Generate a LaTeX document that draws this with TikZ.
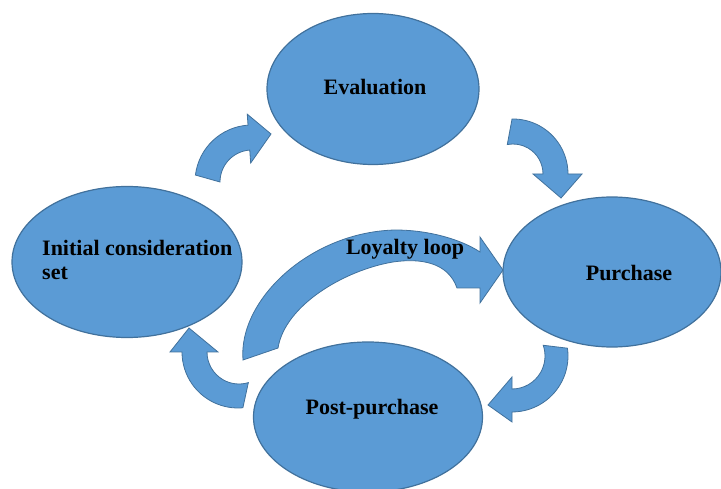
\documentclass[tikz,border=0pt]{standalone}
\usepackage{fontspec}
\setmainfont{Liberation Serif}
\usetikzlibrary{shapes.geometric}

\definecolor{stageblue}{HTML}{5B9BD5}
\definecolor{stageedge}{HTML}{41719C}

\tikzset{
    stage/.style={ellipse, draw=stageedge, fill=stageblue, line width=1.2pt, inner sep=0pt},
    blockarrow/.style={draw=stageedge, fill=stageblue, line width=0.8pt},
    stagetext/.style={font=\fontsize{22}{24}\selectfont\bfseries, inner sep=0pt}
}

\begin{document}
\begin{tikzpicture}[x=1pt, y=-1pt]
    \clip (0,0) rectangle (721,489);

    % Arrow from initial consideration to evaluation
    \draw[blockarrow, shift={(252,182)}] (187:57) arc[start angle=187, end angle=266, radius=57]
        -- (266:68) -- (19,-48) -- (266:19) -- (266:32) arc[start angle=266, end angle=180, radius=32] -- cycle;

    % Arrow from evaluation to purchase
    \draw[blockarrow, shift={(513,174)}] (269:55) arc[start angle=269, end angle=360, radius=55]
        -- (0:69) -- (48,24) -- (0:20) -- (0:30) arc[start angle=360, end angle=259, radius=30] -- cycle;

    % Arrow from purchase to post-purchase
    \draw[blockarrow, shift={(512,356)}] (-8:56) arc[start angle=-8, end angle=90, radius=56]
        -- (90:66) -- (-24,49) -- (90:21) -- (90:33) arc[start angle=90, end angle=-19, radius=33] -- cycle;

    % Arrow from post-purchase back to initial consideration
    \draw[blockarrow, shift={(238,352)}] (85:56) arc[start angle=85, end angle=180, radius=56]
        -- (180:68) -- (-49,-24) -- (180:20) -- (180:31) arc[start angle=180, end angle=73, radius=32] -- cycle;

    % Loyalty loop arrow
    \draw[blockarrow] (243,360) .. controls (238,300) and (310,232) .. (395,230)
        .. controls (430,230) and (462,240) .. (480,252) -- (480,237) -- (503,270) -- (480,303) -- (480,288) -- (457,288)
        .. controls (448,262) and (420,258) .. (393,262) .. controls (345,270) and (285,305) .. (278,348) -- cycle;
    \node[stagetext, anchor=base] (looptxt) at (405,255) {Loyalty loop};

    % Stages
    \node[stage, minimum width=212pt, minimum height=151pt] (eval) at (373,89) {};
    \node[stage, minimum width=230pt, minimum height=151pt] (initial) at (127,262) {};
    \node[stage, minimum width=218pt, minimum height=150pt] (purchase) at (612,272) {};
    \node[stage, minimum width=229pt, minimum height=150pt] (post) at (368,417) {};

    % Stage labels
    \node[stagetext, anchor=base] (evaltxt) at (375,95) {Evaluation};
    \node[stagetext, anchor=base west] (inittxt) at (42,256) {Initial consideration};
    \node[stagetext, anchor=base west] (settxt) at (42,280) {set};
    \node[stagetext, anchor=base] (purchtxt) at (629,281) {Purchase};
    \node[stagetext, anchor=base] (posttxt) at (372,414) {Post-purchase};
\end{tikzpicture}
\end{document}
